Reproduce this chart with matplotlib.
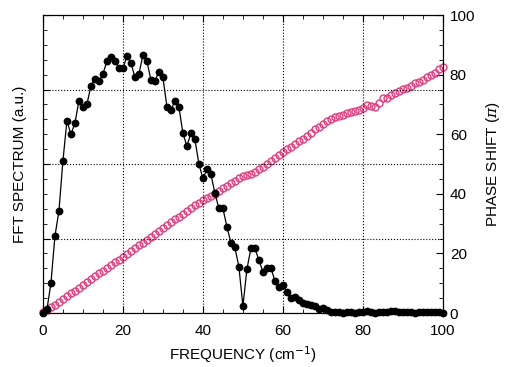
import numpy as np
import matplotlib
matplotlib.use("Agg")
import matplotlib.pyplot as plt
from matplotlib.ticker import MultipleLocator, NullFormatter

plt.rcParams['font.family'] = ['Liberation Sans', 'DejaVu Sans']
plt.rcParams['mathtext.fontset'] = 'dejavuserif'

# frequency axis (cm-1)
freq = np.arange(0, 101)

# FFT spectrum, arbitrary units (left axis, unlabelled 0..1)
fft_spectrum = [
    0.0, 0.012, 0.10, 0.258, 0.342, 0.511, 0.645, 0.600, 0.637, 0.712,
    0.690, 0.701, 0.762, 0.787, 0.779, 0.802, 0.846, 0.858, 0.846, 0.821,
    0.821, 0.862, 0.840, 0.791, 0.802, 0.866, 0.846, 0.782, 0.779, 0.810,
    0.791, 0.692, 0.681, 0.712, 0.692, 0.603, 0.561, 0.603, 0.583, 0.500,
    0.452, 0.482, 0.466, 0.402, 0.351, 0.351, 0.290, 0.236, 0.220, 0.155,
    0.023, 0.147, 0.217, 0.217, 0.178, 0.139, 0.152, 0.152, 0.108, 0.088,
    0.094, 0.070, 0.049, 0.053, 0.044, 0.035, 0.030, 0.027, 0.024, 0.015,
    0.016, 0.009, 0.004, 0.002, 0.003, 0.001, 0.002, 0.002, 0.001, 0.003,
    0.002, 0.008, 0.003, 0.001, 0.002, 0.003, 0.004, 0.006, 0.006, 0.004,
    0.002, 0.003, 0.002, 0.001, 0.003, 0.002, 0.003, 0.002, 0.003, 0.002,
    0.001,
]

# phase shift in units of pi (right axis)
phase_shift = [
    0.3, 1.0, 1.9, 2.8, 3.8, 4.7, 5.6, 6.6, 7.5, 8.5,
    9.5, 10.4, 11.4, 12.4, 13.3, 14.2, 15.1, 16.0, 17.0, 17.9,
    18.8, 19.8, 20.7, 21.7, 22.7, 23.6, 24.6, 25.6, 26.5, 27.5,
    28.5, 29.4, 30.4, 31.4, 32.3, 33.3, 34.2, 35.2, 36.1, 37.0,
    37.8, 38.6, 39.3, 40.1, 41.0, 41.8, 42.7, 43.6, 44.4, 45.2,
    45.9, 46.3, 46.6, 47.2, 48.2, 49.0, 49.9, 50.9, 51.9, 53.0,
    54.0, 54.9, 55.8, 56.7, 57.6, 58.4, 59.5, 60.5, 61.6, 62.6,
    63.5, 64.3, 65.1, 65.7, 66.2, 66.6, 67.0, 67.4, 67.8, 68.3,
    68.9, 69.8, 69.6, 69.0, 70.4, 72.2, 72.0, 73.1, 73.8, 74.5,
    75.2, 75.5, 76.2, 77.1, 77.7, 78.3, 79.2, 80.0, 80.7, 81.9,
    82.7,
]

fig = plt.figure(figsize=(5.05, 3.67), dpi=100)
ax = fig.add_axes([0.085, 0.147, 0.792, 0.812])
ax2 = ax.twinx()

# phase shift: open pink circles
ax2.plot(freq, phase_shift, 'o', mfc='none', mec='#e23a7c', ms=5, mew=1.0,
         clip_on=False)
ax2.set_ylim(0, 100)
ax2.yaxis.set_major_locator(MultipleLocator(20))
ax2.yaxis.set_minor_locator(MultipleLocator(5))
ax2.tick_params(axis='y', which='both', direction='in', labelsize=11, pad=5)
ax2.tick_params(axis='y', which='major', length=5)
ax2.tick_params(axis='y', which='minor', length=3)
ax2.set_ylabel(r'PHASE SHIFT ($\pi$)', fontsize=11, labelpad=6)

# spectrum: black filled circles joined by a line, drawn above
ax.set_zorder(ax2.get_zorder() + 1)
ax.patch.set_visible(False)
ax.plot(freq, fft_spectrum, '-o', color='black', ms=4.6, lw=0.9, clip_on=False)
ax.set_xlim(0, 100)
ax.set_ylim(0, 1)
ax.xaxis.set_major_locator(MultipleLocator(20))
ax.xaxis.set_minor_locator(MultipleLocator(5))
ax.yaxis.set_major_locator(MultipleLocator(0.25))
ax.yaxis.set_minor_locator(MultipleLocator(0.05))
ax.yaxis.set_major_formatter(NullFormatter())
ax.tick_params(which='both', direction='in', top=True, right=False, labelsize=11)
ax.tick_params(axis='x', pad=8)
ax.tick_params(which='major', length=5)
ax.tick_params(which='minor', length=3)
ax.grid(True, which='major', color='black', linestyle=':', linewidth=0.8)
ax.set_xlabel(r'FREQUENCY (cm$^{\mathsf{-1}}$)', fontsize=11, labelpad=4)
ax.set_ylabel('FFT SPECTRUM (a.u.)', fontsize=11, labelpad=8)

fig.savefig('out.png', dpi=100)
